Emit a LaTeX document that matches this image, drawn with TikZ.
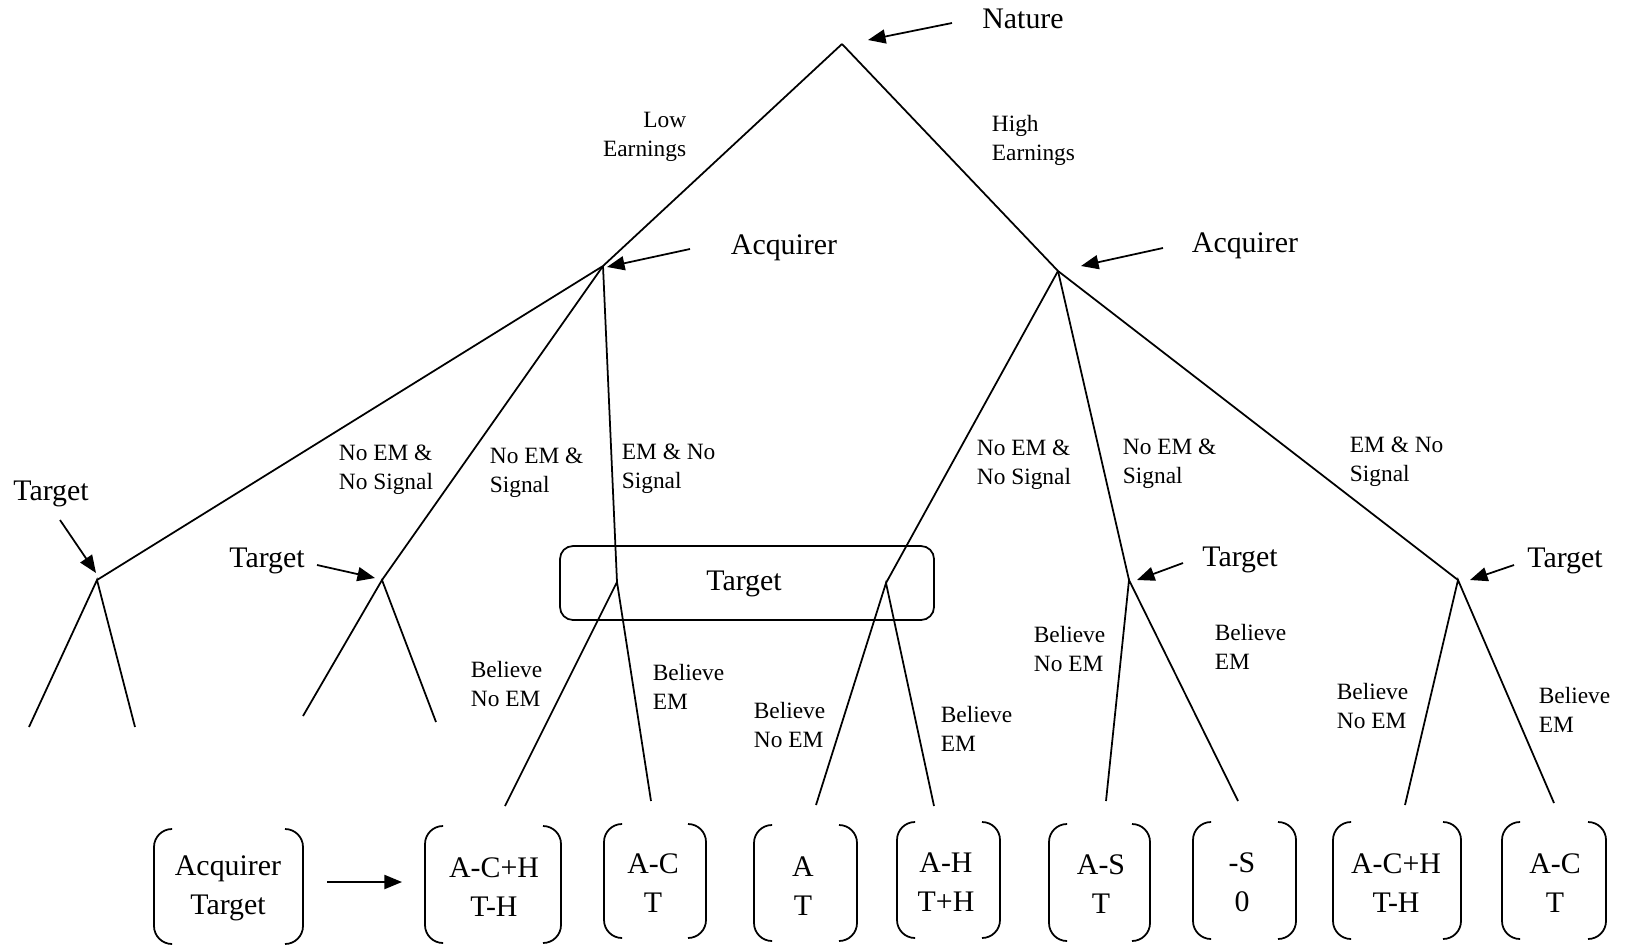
\documentclass[tikz,border=0pt]{standalone}
\usepackage{fontspec}
\setmainfont{Liberation Serif}
\usetikzlibrary{arrows.meta}

\tikzset{
  player/.style={font=\fontsize{17}{22}\selectfont, inner sep=0pt},
  move/.style={font=\fontsize{13.3}{16.5}\selectfont, align=left, anchor=west, inner sep=0pt},
  payoff/.style={font=\fontsize{17}{22.2}\selectfont, align=center, inner sep=0pt},
  pointer/.style={-{Triangle[length=10pt,width=8pt]}},
  bracket/.style={rounded corners=0.36cm},
}

\begin{document}
\begin{tikzpicture}[x=0.02cm, y=-0.02cm, line width=1pt]
            \useasboundingbox (0,0) rectangle (1625,946);

            % Decision points of the tree
            \coordinate (nat) at (842,44);
            \coordinate (acqL) at (603,266);
            \coordinate (acqR) at (1058,271);
            \coordinate (tgtA) at (97,580);
            \coordinate (tgtB) at (382,580);
            \coordinate (infL) at (617,582);
            \coordinate (infR) at (886,583);
            \coordinate (tgtC) at (1129,580);
            \coordinate (tgtD) at (1458,580);

            % Ends of the last branches
            \coordinate (endA1) at (29,727);
            \coordinate (endA2) at (135,727);
            \coordinate (endB1) at (303,716);
            \coordinate (endB2) at (436,722);
            \coordinate (endL1) at (505,806);
            \coordinate (endL2) at (651,801);
            \coordinate (endR1) at (816,805);
            \coordinate (endR2) at (934,806);
            \coordinate (endC1) at (1106,801);
            \coordinate (endC2) at (1238,801);
            \coordinate (endD1) at (1405,805);
            \coordinate (endD2) at (1554,803);

            % Draw the Nature move
            \node[player] (natlabel) at (1023,19) {Nature};
            \draw[pointer] (952,23) coordinate (natfrom) -- (868,40);
            \draw (nat) -- (acqL);
            \draw (nat) -- (acqR);
            \node[move, anchor=east, align=right] (low) at (687,137) {Low\\Earnings};
            \node[move] (high) at (991,140) {High\\Earnings};

            % Draw the Acquirer moves
            \node[player] (acqLlabel) at (784,248) {Acquirer};
            \draw[pointer] (690,249) coordinate (acqLfrom) -- (607,267);
            \node[player] (acqRlabel) at (1245,246) {Acquirer};
            \draw[pointer] (1163,248) coordinate (acqRfrom) -- (1081,266);
            \draw (acqL) -- (tgtA);
            \draw (acqL) -- (tgtB);
            \draw (acqL) -- (infL);
            \draw (acqR) -- (infR);
            \draw (acqR) -- (tgtC);
            \draw (acqR) -- (tgtD);
            \node[move] (lowNN) at (338,470) {No EM \&\\No Signal};
            \node[move] (lowNS) at (489,473) {No EM \&\\Signal};
            \node[move] (lowEN) at (621,469) {EM \& No\\Signal};
            \node[move] (highNN) at (976,465) {No EM \&\\No Signal};
            \node[move] (highNS) at (1122,464) {No EM \&\\Signal};
            \node[move] (highEN) at (1349,462) {EM \& No\\Signal};

            % Draw the Target moves
            \node[player] (tgtAlabel) at (51,494) {Target};
            \draw[pointer] (60,520) coordinate (tgtAfrom) -- (96,573);
            \node[player] (tgtBlabel) at (267,561) {Target};
            \draw[pointer] (317,565) coordinate (tgtBfrom) -- (375,578);
            \node[player] (tgtClabel) at (1240,560) {Target};
            \draw[pointer] (1183,563) coordinate (tgtCfrom) -- (1137,580);
            \node[player] (tgtDlabel) at (1565,561) {Target};
            \draw[pointer] (1514,565) coordinate (tgtDfrom) -- (1470,580);
            \draw[rounded corners=0.26cm] (560,546) rectangle (934,620);
            \node[player] (infolabel) at (744,584) {Target};

            \draw (endA1) -- (tgtA) -- (endA2);
            \draw (endB1) -- (tgtB) -- (endB2);
            \draw (endL1) -- (infL) -- (endL2);
            \draw (endR1) -- (infR) -- (endR2);
            \draw (endC1) -- (tgtC) -- (endC2);
            \draw (endD1) -- (tgtD) -- (endD2);
            \node[move] (bLn) at (470,684) {Believe\\No EM};
            \node[move] (bLe) at (652,687) {Believe\\EM};
            \node[move] (bRn) at (753,725) {Believe\\No EM};
            \node[move] (bRe) at (940,729) {Believe\\EM};
            \node[move] (bCn) at (1033,649) {Believe\\No EM};
            \node[move] (bCe) at (1214,647) {Believe\\EM};
            \node[move] (bDn) at (1336,706) {Believe\\No EM};
            \node[move] (bDe) at (1538,710) {Believe\\EM};

            % Draw the payoffs
            \draw[bracket] (172,829) -- (154,829) -- (154,944) -- (172,944) (285,829) -- (303,829) -- (303,944) -- (285,944);
            \node[payoff] (key) at (228,888) {Acquirer\\Target};
            \draw[pointer] (327,882) coordinate (keyfrom) -- (402,882);
            \draw[bracket] (443,826) -- (425,826) -- (425,943) -- (443,943) (543,826) -- (561,826) -- (561,943) -- (543,943);
            \node[payoff] (pay1) at (494,887) {A-C+H\\T-H};
            \draw[bracket] (622,824) -- (604,824) -- (604,938) -- (622,938) (688,824) -- (706,824) -- (706,938) -- (688,938);
            \node[payoff] (pay2) at (653,883) {A-C\\T};
            \draw[bracket] (772,825) -- (754,825) -- (754,941) -- (772,941) (839,825) -- (857,825) -- (857,941) -- (839,941);
            \node[payoff] (pay3) at (803,886) {A\\T};
            \draw[bracket] (915,822) -- (897,822) -- (897,938) -- (915,938) (982,822) -- (1000,822) -- (1000,938) -- (982,938);
            \node[payoff] (pay4) at (946,882) {A-H\\T+H};
            \draw[bracket] (1067,824) -- (1049,824) -- (1049,941) -- (1067,941) (1132,824) -- (1150,824) -- (1150,941) -- (1132,941);
            \node[payoff] (pay5) at (1101,884) {A-S\\T};
            \draw[bracket] (1211,822) -- (1193,822) -- (1193,939) -- (1211,939) (1278,822) -- (1296,822) -- (1296,939) -- (1278,939);
            \node[payoff] (pay6) at (1242,882) {-S\\0};
            \draw[bracket] (1351,822) -- (1333,822) -- (1333,939) -- (1351,939) (1443,822) -- (1461,822) -- (1461,939) -- (1443,939);
            \node[payoff] (pay7) at (1396,883) {A-C+H\\T-H};
            \draw[bracket] (1520,822) -- (1502,822) -- (1502,939) -- (1520,939) (1588,822) -- (1606,822) -- (1606,939) -- (1588,939);
            \node[payoff] (pay8) at (1555,883) {A-C\\T};

        \end{tikzpicture}
\end{document}
